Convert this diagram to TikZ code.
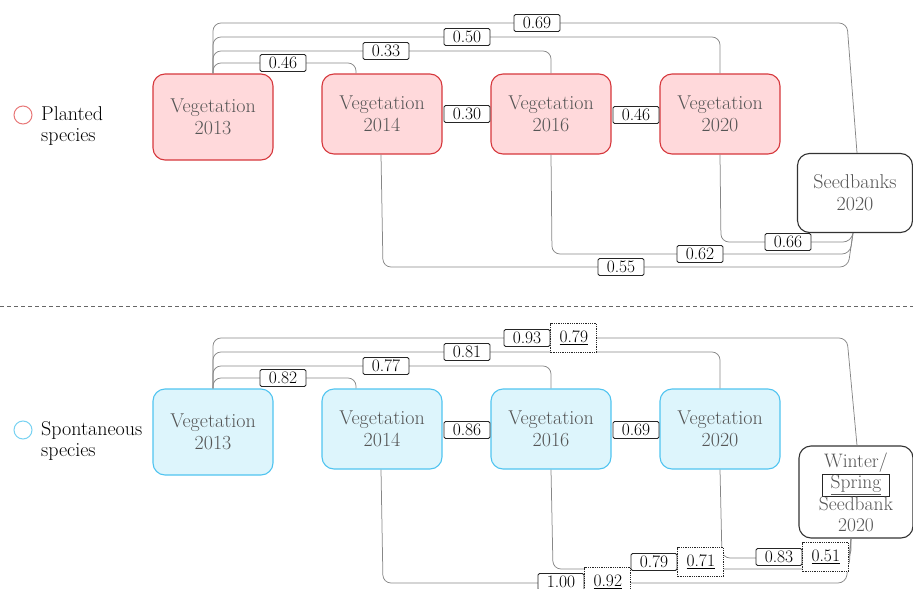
\documentclass[tikz,border=0pt]{standalone}
\usepackage{tikz}
\usetikzlibrary{calc}
\definecolor{plantfill}{RGB}{255,217,219}
\definecolor{plantline}{RGB}{214,55,60}
\definecolor{plantdot}{RGB}{232,120,120}
\definecolor{spontfill}{RGB}{221,245,252}
\definecolor{spontline}{RGB}{80,196,240}
\definecolor{spontdot}{RGB}{120,210,242}
\definecolor{boxtext}{RGB}{85,85,85}
\definecolor{linkgray}{RGB}{135,135,135}
\tikzset{
	veg/.style={draw, rounded corners=12pt, line width=1.1pt, text=boxtext, align=center, inner sep=1pt, font=\fontsize{20}{22}\selectfont, minimum width=120pt},
	plantbox/.style={veg, fill=plantfill, draw=plantline},
	spontbox/.style={veg, fill=spontfill, draw=spontline},
	bankbox/.style={veg, fill=white, draw=black!80, minimum width=115pt},
	val/.style={draw=black!85, fill=white, rounded corners=1.5pt, line width=0.8pt, inner sep=0pt, font=\fontsize{17.5}{18}\selectfont, minimum width=46pt, minimum height=17pt},
	altval/.style={val, rounded corners=0pt, densely dotted, minimum height=29pt},
	conn/.style={draw=linkgray, line width=0.75pt, rounded corners=8pt},
	legdot/.style={circle, line width=1pt, inner sep=0pt, minimum size=18pt, fill=white},
	legtext/.style={anchor=west, align=left, inner sep=0pt, font=\fontsize{20}{21.5}\selectfont}
}
\setlength{\fboxsep}{1pt}

\begin{document}
\begin{tikzpicture}[x=1pt,y=-1pt]
			%%%%% START %%%%%
			\useasboundingbox (0,0) rectangle (913,589);
			
			%% planted species
			\node[legdot, draw=plantdot] (pdot) at (23,115) {};
			\node[legtext] (ptext) at (41,126) {Planted\\species};
			
			\node[plantbox, minimum height=86pt] (v13) at (213,117) {Vegetation\\2013};
			\node[plantbox, minimum height=80pt] (v14) at (382,114) {Vegetation\\2014};
			\node[plantbox, minimum height=80pt] (v16) at (551,114) {Vegetation\\2016};
			\node[plantbox, minimum height=80pt] (v20) at (720,114) {Vegetation\\2020};
			\node[bankbox, minimum height=79pt] (sb) at (855,193) {Seedbanks\\2020};
			
			\draw[conn] (v13.north) -- (213,23) -- (847,23) -- ([xshift=2pt]sb.north);
			\draw[conn] (v13.north) -- (213,37) -- (720,37) -- (v20.north);
			\draw[conn] (v13.north) -- (213,51) -- (551,51) -- (v16.north);
			\draw[conn] (v13.north) -- (213,63) -- (356,63) -- ([xshift=-26pt]v14.north);
			\draw[conn] ([xshift=-1pt]v14.south) -- (383,267) -- (848,267) -- ([xshift=-2pt]sb.south);
			\draw[conn] (v16.south) -- (552,254) -- (850,254) -- ([xshift=-2pt]sb.south);
			\draw[conn] (v20.south) -- (721,242) -- (851,242) -- ([xshift=-2pt]sb.south);
			
			\node[val] (p069) at (537,23) {0.69};
			\node[val] (p050) at (467,37) {0.50};
			\node[val] (p033) at (386,51) {0.33};
			\node[val] (p046) at (283,63) {0.46};
			\node[val] (p030) at (467,114) {0.30};
			\node[val] (p046b) at (636,115) {0.46};
			\node[val] (p066) at (788,242) {0.66};
			\node[val] (p062) at (700,254) {0.62};
			\node[val] (p055) at (621,267) {0.55};
			
			\draw[dashed, dash pattern=on 4pt off 3pt, line width=0.8pt, black!60] (0,306) -- (913,306);
			
			%% spontaneous species
			\node[legdot, draw=spontdot] (sdot) at (23,430) {};
			\node[legtext] (stext) at (41,441) {Spontaneous\\species};
			
			\node[spontbox, minimum height=86pt] (s13) at (213,432) {Vegetation\\2013};
			\node[spontbox, minimum height=80pt] (s14) at (382,429) {Vegetation\\2014};
			\node[spontbox, minimum height=80pt] (s16) at (551,429) {Vegetation\\2016};
			\node[spontbox, minimum height=80pt] (s20) at (720,429) {Vegetation\\2020};
			\node[bankbox, minimum height=92pt, minimum width=114pt, inner sep=0pt, font=\fontsize{19.5}{20.5}\selectfont] (wsb) at (856,492) {Winter/\\[1pt]{\color{black!85}\fbox{\hspace{7pt}\color{boxtext}\underline{Spring}\hspace{7pt}}}\\Seedbank\\2020};
			
			\draw[conn] (s13.north) -- (213,338) -- (847,338) -- ([xshift=1pt]wsb.north);
			\draw[conn] (s13.north) -- (213,352) -- (720,352) -- (s20.north);
			\draw[conn] (s13.north) -- (213,366) -- (551,366) -- (s16.north);
			\draw[conn] (s13.north) -- (213,378) -- (356,378) -- ([xshift=-26pt]s14.north);
			\draw[conn] ([xshift=-1pt]s14.south) -- (383,583) -- (846,583) -- ([xshift=-5pt]wsb.south);
			\draw[conn] (s16.south) -- (553,569) -- (849,569) -- ([xshift=-5pt]wsb.south);
			\draw[conn] (s20.south) -- (722,558) -- (851,558) -- ([xshift=-5pt]wsb.south);
			
			\node[val] (s093) at (527,338) {0.93};
			\node[altval, anchor=west] (s079) at (s093.east) {\underline{0.79}};
			\node[val] (s081) at (467,352) {0.81};
			\node[val] (s077) at (386,366) {0.77};
			\node[val] (s082) at (283,378) {0.82};
			\node[val] (s086) at (467,430) {0.86};
			\node[val] (s069) at (636,430) {0.69};
			\node[val] (s083) at (779,557) {0.83};
			\node[altval, anchor=west] (s051) at (s083.east) {\underline{0.51}};
			\node[val] (s100) at (561,582) {1.00};
			\node[altval, anchor=west] (s092) at (s100.east) {\underline{0.92}};
			\node[val] (s079b) at (654,562) {0.79};
			\node[altval, anchor=west] (s071) at (s079b.east) {\underline{0.71}};
			
			%%%%% END %%%%%
		\end{tikzpicture}
\end{document}
